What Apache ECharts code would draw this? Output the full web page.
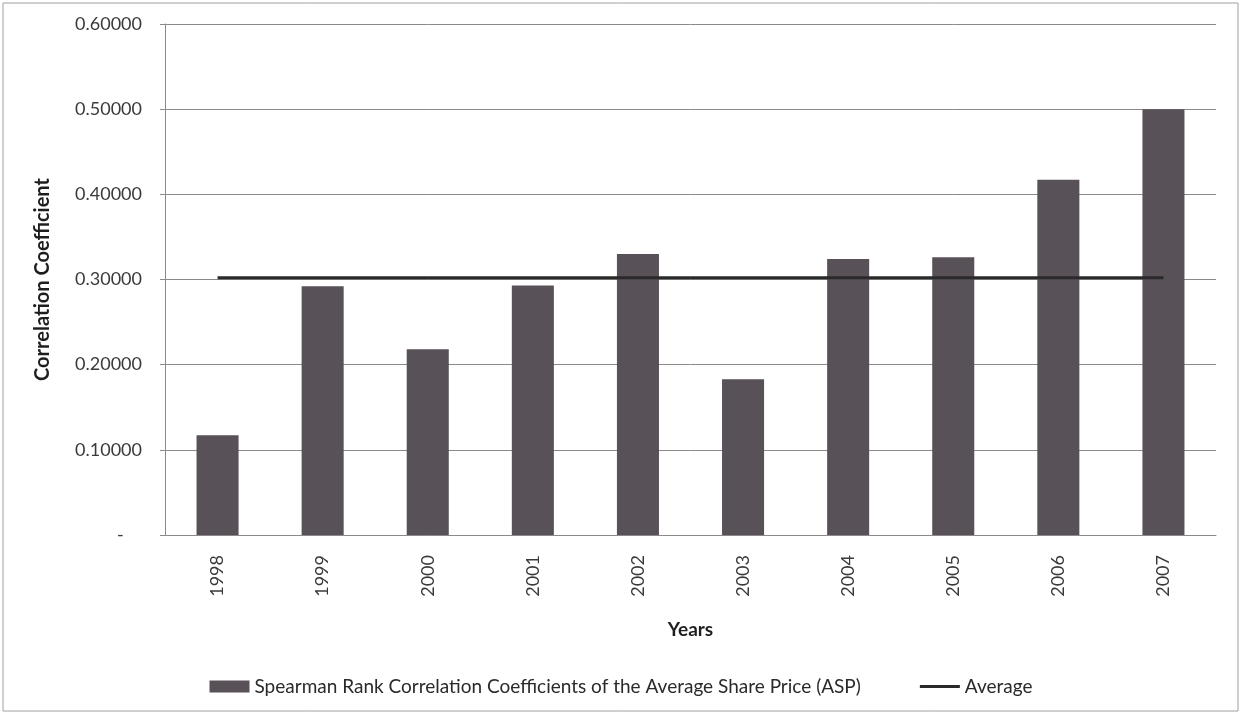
<!DOCTYPE html>
<html>
<head>
<meta charset="utf-8">
<style>
  html, body { margin: 0; padding: 0; background: #ffffff; }
  #chart { width: 1242px; height: 715px; }
</style>
<script src="https://cdn.jsdelivr.net/npm/echarts@6/dist/echarts.min.js"></script>
</head>
<body>
<div id="chart"></div>
<script>
// Years on the category axis
const years = ['1998', '1999', '2000', '2001', '2002', '2003', '2004', '2005', '2006', '2007'];
// Spearman rank correlation coefficients of the average share price, per year
const spearmanASP = [0.117, 0.292, 0.218, 0.293, 0.330, 0.183, 0.324, 0.326, 0.417, 0.500];
// Average coefficient over the period, drawn as a flat line
const averageValue = [0.302, 0.302, 0.302, 0.302, 0.302, 0.302, 0.302, 0.302, 0.302, 0.302];

const FONT = 'Lato, "Open Sans", sans-serif';
// Thin horizontal bar (40x12 box) used as the legend icon of the average line
const LINE_ICON = 'path://M0,0L0,0M0,4.5L40,4.5L40,7.5L0,7.5ZM0,12L0,12';

const chart = echarts.init(document.getElementById('chart'), null, { renderer: 'canvas' });

chart.setOption({
  animation: false,
  backgroundColor: '#ffffff',
  textStyle: { fontFamily: FONT },
  graphic: [{
    type: 'rect',
    shape: { x: 3, y: 3, width: 1235, height: 708 },
    style: { fill: 'none', stroke: '#a0a0a0', lineWidth: 1 },
    silent: true
  }],
  grid: { left: 165, right: 26, top: 24, bottom: 180, containLabel: false },
  legend: {
    top: 672,
    left: 'center',
    itemGap: 59,
    itemWidth: 40,
    itemHeight: 12,
    textStyle: { fontFamily: FONT, fontSize: 19, color: '#2a2a2a' },
    data: [
      { name: 'Spearman Rank Correlation Coefficients of the Average Share Price (ASP)', icon: 'rect' },
      { name: 'Average', icon: LINE_ICON }
    ]
  },
  xAxis: {
    type: 'category',
    data: years,
    boundaryGap: true,
    name: 'Years',
    nameLocation: 'middle',
    nameGap: 85,
    nameTextStyle: { fontFamily: FONT, fontSize: 19, fontWeight: 'bold', color: '#1e1e1e' },
    axisLine: { lineStyle: { color: '#8a8a8a', width: 1 } },
    axisTick: { show: false },
    axisLabel: { rotate: 90, margin: 20, fontFamily: FONT, fontSize: 18, color: '#3a3a3a' }
  },
  yAxis: {
    type: 'value',
    min: 0,
    max: 0.6,
    interval: 0.1,
    name: 'Correlation Coefficient',
    nameLocation: 'middle',
    nameGap: 112,
    nameRotate: 90,
    nameTextStyle: { fontFamily: FONT, fontSize: 20, fontWeight: 'bold', color: '#1e1e1e' },
    axisLine: { show: true, lineStyle: { color: '#8a8a8a', width: 1 } },
    axisTick: { show: true, length: 5, lineStyle: { color: '#8a8a8a' } },
    axisLabel: {
      margin: 23,
      fontFamily: FONT,
      fontSize: 18,
      color: '#3a3a3a',
      formatter: function (v) { return v === 0 ? '-    ' : v.toFixed(5); }
    },
    splitLine: { show: true, lineStyle: { color: '#8a8a8a', width: 1 } }
  },
  series: [
    {
      name: 'Spearman Rank Correlation Coefficients of the Average Share Price (ASP)',
      type: 'bar',
      data: spearmanASP,
      barWidth: '40%',
      itemStyle: { color: '#595158' },
      z: 2
    },
    {
      name: 'Average',
      type: 'line',
      data: averageValue,
      symbol: 'none',
      lineStyle: { color: '#2a2a2a', width: 3 },
      itemStyle: { color: '#2a2a2a' },
      z: 3
    }
  ]
});
</script>
</body>
</html>
